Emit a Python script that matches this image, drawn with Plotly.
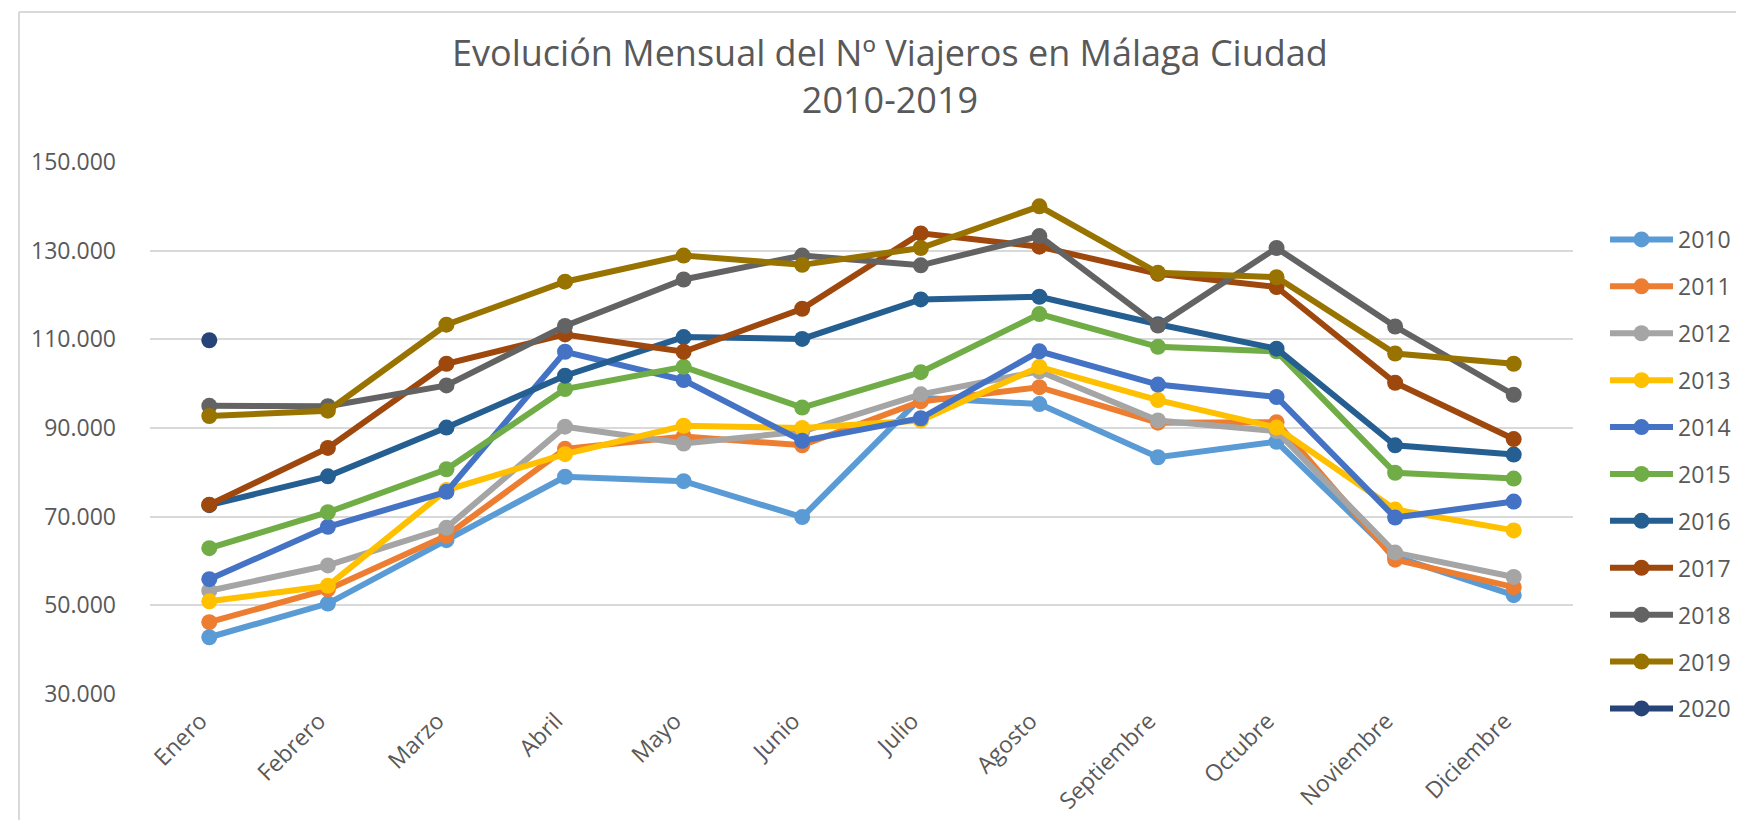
import plotly.graph_objects as go

months = ["Enero", "Febrero", "Marzo", "Abril", "Mayo", "Junio", "Julio",
          "Agosto", "Septiembre", "Octubre", "Noviembre", "Diciembre"]

y2010 = [42800, 50400, 64700, 79000, 78000, 69900, 96800, 95400, 83400, 86900, 61000, 52300]
y2011 = [46200, 53600, 65700, 85300, 88100, 86100, 96000, 99200, 91200, 91300, 60300, 54100]
y2012 = [53300, 59000, 67500, 90300, 86500, 89200, 97600, 102800, 91700, 89300, 61900, 56400]
y2013 = [50900, 54400, 76000, 84100, 90500, 90000, 91700, 103800, 96300, 90100, 71600, 66900]
y2014 = [55900, 67700, 75600, 107200, 100800, 87100, 92200, 107300, 99800, 97000, 69800, 73400]
y2015 = [62900, 71000, 80700, 98800, 103800, 94600, 102600, 115700, 108300, 107300, 79900, 78600]
y2016 = [72600, 79100, 90100, 101800, 110500, 110100, 119000, 119600, 113400, 107900, 86100, 84000]
y2017 = [72700, 85500, 104500, 111100, 107200, 116900, 133900, 130900, 124800, 121800, 100200, 87500]
y2018 = [95000, 94900, 99600, 113000, 123500, 128900, 126700, 133300, 113100, 130600, 112900, 97500]
y2019 = [92700, 93900, 113300, 123000, 128900, 126800, 130600, 140000, 125000, 124000, 106800, 104500]
y2020 = [109800]

series = [
    ("2010", y2010, "#5B9BD5"),
    ("2011", y2011, "#ED7D31"),
    ("2012", y2012, "#A5A5A5"),
    ("2013", y2013, "#FFC000"),
    ("2014", y2014, "#4472C4"),
    ("2015", y2015, "#70AD47"),
    ("2016", y2016, "#255E91"),
    ("2017", y2017, "#9E480E"),
    ("2018", y2018, "#636363"),
    ("2019", y2019, "#997300"),
    ("2020", y2020, "#264478"),
]

TXT = "#595959"
FONT = "Open Sans"

fig = go.Figure()
for name, vals, color in series:
    fig.add_trace(go.Scatter(
        x=months[:len(vals)], y=vals, name=name, mode="lines+markers",
        legendgroup=name,
        line=dict(color=color, width=6),
        marker=dict(color=color, size=16),
    ))

L, R, T, B = 142, 179, 154, 134
W, H = 1744, 820
pw, ph = W - L - R, H - T - B

def px(x):
    return (x - L) / pw

def py(y):
    return (H - B - y) / ph

fig.update_layout(
    width=W, height=H,
    margin=dict(l=L, r=R, t=T, b=B, pad=0),
    paper_bgcolor="white", plot_bgcolor="white",
    separators=",.",
    font=dict(family=FONT, color=TXT, size=23),
    title=dict(
        text="Evolución Mensual del Nº Viajeros en Málaga Ciudad<br>2010-2019",
        x=0.5057, xanchor="center", xref="container",
        y=1 - 58 / H, yanchor="middle", yref="container",
        font=dict(family=FONT, size=36, color=TXT),
    ),
    xaxis=dict(
        type="category", categoryorder="array", categoryarray=months,
        range=[-0.5, 11.5],
        showgrid=False, zeroline=False, showline=False, ticks="",
        tickangle=-45, tickfont=dict(size=23, color=TXT, family=FONT),
        ticklabelstandoff=8, ticklabelshift=-9,
    ),
    yaxis=dict(
        range=[30000, 150000], tickvals=[30000, 50000, 70000, 90000, 110000, 130000, 150000],
        tickformat=",d", showgrid=True, gridcolor="#D9D9D9", gridwidth=2,
        zeroline=False, showline=False, ticks="",
        tickfont=dict(size=23, color=TXT, family=FONT),
        ticklabelstandoff=33,
    ),
    legend=dict(
        x=px(1597), xanchor="left", y=py(210), yanchor="top",
        font=dict(size=23, color=TXT, family=FONT),
        tracegroupgap=14, itemwidth=63, bgcolor="rgba(0,0,0,0)",
        itemclick=False,
    ),
    showlegend=True,
    shapes=[
        dict(type="line", xref="paper", yref="paper",
             x0=px(11), x1=px(11), y0=py(4), y1=py(830),
             line=dict(color="#D9D9D9", width=2)),
        dict(type="line", xref="paper", yref="paper",
             x0=px(11), x1=px(1760), y0=py(4), y1=py(4),
             line=dict(color="#D9D9D9", width=2)),
    ],
)

fig.write_html("out.html")
